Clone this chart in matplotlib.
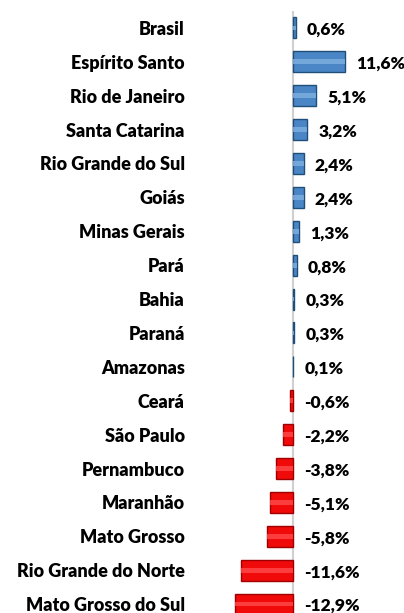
import matplotlib.pyplot as plt

states = ["Brasil", "Espírito Santo", "Rio de Janeiro", "Santa Catarina",
          "Rio Grande do Sul", "Goiás", "Minas Gerais", "Pará", "Bahia",
          "Paraná", "Amazonas", "Ceará", "São Paulo", "Pernambuco",
          "Maranhão", "Mato Grosso", "Rio Grande do Norte", "Mato Grosso do Sul"]
values = [0.6, 11.6, 5.1, 3.2, 2.4, 2.4, 1.3, 0.8, 0.3, 0.3, 0.1,
          -0.6, -2.2, -3.8, -5.1, -5.8, -11.6, -12.9]

plt.rcParams['font.family'] = ['Lato', 'DejaVu Sans']

fig = plt.figure(figsize=(4.04, 6.13), dpi=100)
ax = fig.add_axes([200 / 404, -8 / 613, 200 / 404, 610 / 613])

ypos = list(range(len(states)))
face = ['#4a86c6' if v > 0 else '#f00a0a' for v in values]
edge = ['#1f4e79' if v > 0 else '#9e0000' for v in values]
light = ['#7fb0e0' if v > 0 else '#ff4a4a' for v in values]
ax.barh(ypos, values, height=0.62, color=face, edgecolor=edge, linewidth=1.0)
# soft stripe to hint at the bevelled look
ax.barh(ypos, values, height=0.14, color=light, linewidth=0, alpha=0.8)

for y, v in zip(ypos, values):
    txt = f"{v:.1f}%".replace('.', ',')
    x = max(v, 0)
    ax.annotate(txt, (x, y), xytext=(8, -1.5), textcoords='offset points',
                ha='left', va='center', fontsize=12.5, fontweight='heavy')

ax.set_xlim(-20.7, 23.8)
ax.set_ylim(len(states) - 0.5, -0.5)
ax.axvline(0, color='#d0d0d0', lw=1.5, zorder=0)
ax.set_yticks(ypos)
ax.set_yticklabels(states, fontsize=13, fontweight='heavy')
ax.tick_params(axis='y', length=0, pad=11)
ax.set_xticks([])
for s in ax.spines.values():
    s.set_visible(False)

fig.savefig('out.png', dpi=100)
